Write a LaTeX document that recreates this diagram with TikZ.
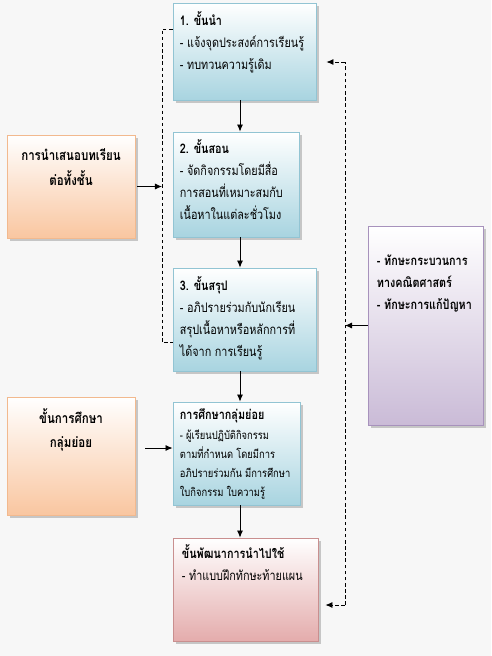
\documentclass[tikz,border=0pt]{standalone}
\usepackage{fontspec}
\newfontfamily\thai[Script=Thai,FakeStretch=0.82]{Loma}
\usetikzlibrary{positioning,shadows,arrows.meta}
\definecolor{bgcol}{HTML}{F7F7F7}
\definecolor{blueline}{HTML}{92C4D3}
\definecolor{bluebot}{HTML}{A8D4E0}
\definecolor{orgline}{HTML}{F2B98E}
\definecolor{orgbot}{HTML}{F9C6A0}
\definecolor{pinkline}{HTML}{C98F8F}
\definecolor{pinkbot}{HTML}{E4ACAC}
\definecolor{purpline}{HTML}{A792BC}
\definecolor{purpbot}{HTML}{CABBD7}
\tikzset{
  box/.style={draw,rectangle,inner sep=0pt,line width=0.5pt,drop shadow={shadow xshift=0.06cm,shadow yshift=-0.06cm,fill=black!35,opacity=0.6}},
  bluebox/.style={box,draw=blueline,top color=white,bottom color=bluebot},
  orgbox/.style={box,draw=orgline,top color=white,bottom color=orgbot},
  pinkbox/.style={box,draw=pinkline,top color=white,bottom color=pinkbot},
  purpbox/.style={box,draw=purpline,top color=white,bottom color=purpbot},
  txt/.style={font=\thai\fontsize{7.5}{12.5}\selectfont,align=left,inner sep=0pt},
  small/.style={font=\thai\fontsize{6.5}{10.8}\selectfont,align=left,inner sep=0pt},
  ctxt/.style={font=\thai\bfseries\fontsize{8}{14}\selectfont,align=center,inner sep=0pt},
  arr/.style={-{Latex[length=4pt,width=3.5pt]},line width=0.5pt},
  dsh/.style={dash pattern=on 2pt off 1.5pt,line width=0.5pt},
}
\begin{document}
\begin{tikzpicture}[x=0.02cm,y=-0.02cm]
  \useasboundingbox (0,0) rectangle (491,656);
  \fill[bgcol] (0,0) rectangle (491,656);
  \node[bluebox,minimum width=2.86cm,minimum height=1.94cm] (b1) at (244.5,51.5) {};
  \node[bluebox,minimum width=2.52cm,minimum height=2.10cm] (b2) at (236,184.5) {};
  \node[bluebox,minimum width=2.86cm,minimum height=2.06cm] (b3) at (244.5,319.5) {};
  \node[bluebox,minimum width=2.54cm,minimum height=2.06cm] (b4) at (236.5,453.5) {};
  \node[pinkbox,minimum width=2.90cm,minimum height=2.06cm] (b5) at (245.5,589.5) {};
  \node[orgbox,minimum width=2.56cm,minimum height=2.06cm] (l1) at (71,186.5) {};
  \node[orgbox,minimum width=2.56cm,minimum height=2.36cm] (l2) at (71,456) {};
  \node[purpbox,minimum width=2.30cm,minimum height=3.98cm] (pr) at (425.5,325.5) {};
  \node[txt,below right=0.18cm and 0.14cm of b1.north west] (t1) {\textbf{1. ขั้นนำ}\\- แจ้งจุดประสงค์การเรียนรู้\\- ทบทวนความรู้เดิม};
  \node[txt,below right=0.16cm and 0.14cm of b2.north west] (t2) {\textbf{2. ขั้นสอน}\\- จัดกิจกรรมโดยมีสื่อ\\การสอนที่เหมาะสมกับ\\เนื้อหาในแต่ละชั่วโมง};
  \node[txt,below right=0.18cm and 0.14cm of b3.north west] (t3) {\textbf{3. ขั้นสรุป}\\- อภิปรายร่วมกับนักเรียน\\สรุปเนื้อหาหรือหลักการที่\\ได้จาก การเรียนรู้};
  \node[txt,below right=0.14cm and 0.14cm of b4.north west] (t4) {\textbf{การศึกษากลุ่มย่อย}};
  \node[small,below=0.12cm of t4.south west,anchor=north west] (t4b) {- ผู้เรียนปฏิบัติกิจกรรม\\ตามที่กำหนด โดยมีการ\\อภิปรายร่วมกัน มีการศึกษา\\ใบกิจกรรม ใบความรู้};
  \node[txt,below right=0.14cm and 0.18cm of b5.north west] (t5) {\textbf{ขั้นพัฒนาการนำไปใช้}\\- ทำแบบฝึกทักษะท้ายแผน};
  \node[ctxt] (c1) at (71,167) {การนำเสนอบทเรียน\\ต่อทั้งชั้น};
  \node[ctxt] (c2) at (71,430) {ขั้นการศึกษา\\กลุ่มย่อย};
  \node[txt,font=\thai\bfseries\fontsize{7.5}{12.5}\selectfont,below right=0.58cm and 0.18cm of pr.north west] (t6) {- ทักษะกระบวนการ\\ทางคณิตศาสตร์\\- ทักษะการแก้ปัญหา};
  \coordinate (ax) at (240,0);
  \coordinate (lt) at (162,29);
  \coordinate (lb) at (162,342);
  \coordinate (rt) at (345,62);
  \coordinate (rb) at (345,605);
  \draw[arr] (b1.south -| ax) -- (b2.north -| ax);
  \draw[arr] (b2.south -| ax) -- (b3.north -| ax);
  \draw[arr] (b3.south -| ax) -- (b4.north -| ax);
  \draw[arr] (b4.south -| ax) -- (b5.north -| ax);
  \draw[dsh] (b1.west |- lt) -- (lt) -- (lb) -- (b3.west |- lb);
  \draw[arr,shorten <=0.04cm] (l1.east) -- (lt |- l1.east);
  \draw[arr,shorten <=0.2cm] (l2.east |- 0,448) -- (b4.west |- 0,448);
  \draw[dsh] (rb) -- (rt);
  \draw[dsh,arr,shorten >=0.2cm] (rt) -- (b1.east |- rt);
  \draw[dsh,arr,shorten >=0.14cm] (rb) -- (b5.east |- rb);
  \draw[arr] (pr.west) -- (rt |- pr.west);
\end{tikzpicture}
\end{document}
